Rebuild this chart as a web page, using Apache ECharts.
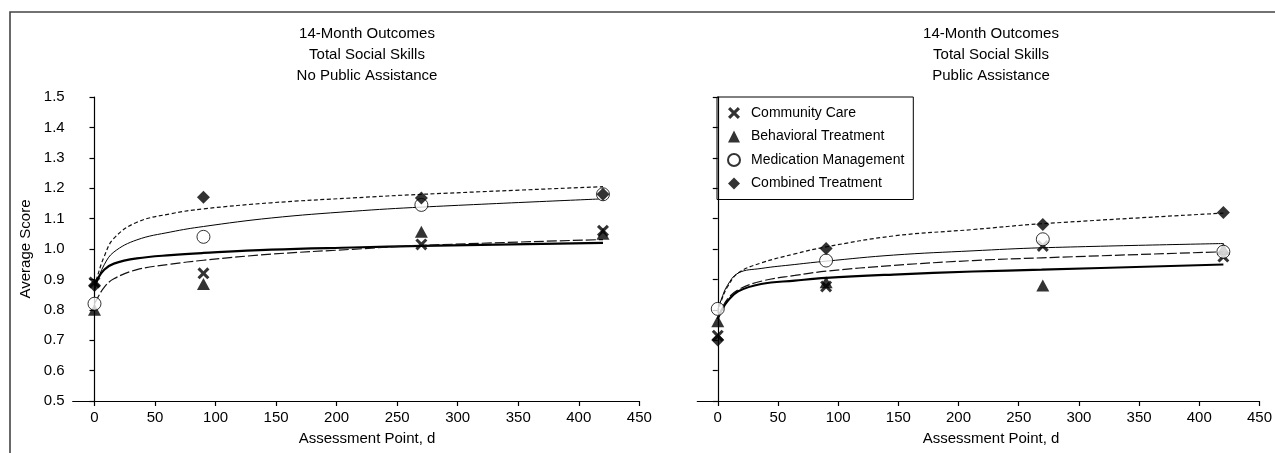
<!DOCTYPE html>
<html>
<head>
<meta charset="utf-8">
<script src="https://cdn.jsdelivr.net/npm/echarts@6/dist/echarts.min.js"></script>
<style>
  html, body { margin: 0; padding: 0; background: #fff; }
  #chart { width: 1275px; height: 453px; }
</style>
</head>
<body>
<div id="chart"></div>
<script>
// ---------------- DATA ----------------
const groupNames = ['Community Care', 'Behavioral Treatment', 'Medication Management', 'Combined Treatment'];
const panelTitles = [
  '14-Month Outcomes\nTotal Social Skills\nNo Public Assistance',
  '14-Month Outcomes\nTotal Social Skills\nPublic Assistance'
];
const xTickValues = [0, 50, 100, 150, 200, 250, 300, 350, 400, 450];
const assessmentDays = [0, 90, 270, 420];

// observed means, No Public Assistance
const communityNoPA  = [0.89, 0.92, 1.015, 1.06];
const behavioralNoPA = [0.80, 0.885, 1.057, 1.05];
const medicationNoPA = [0.82, 1.04, 1.145, 1.18];
const combinedNoPA   = [0.88, 1.17, 1.168, 1.18];

// observed means, Public Assistance
const communityPA  = [0.715, 0.877, 1.01, 0.975];
const behavioralPA = [0.762, 0.891, 0.88, 1.0];
const medicationPA = [0.803, 0.962, 1.032, 0.991];
const combinedPA   = [0.701, 1.002, 1.081, 1.12];

// fitted curves, No Public Assistance
const fitDaysNoPA       = [0, 2, 8, 16, 35, 63, 90, 146, 213, 271, 420];
const fitCommunityNoPA  = [0.88, 0.898, 0.932, 0.952, 0.969, 0.980, 0.987, 0.998, 1.005, 1.010, 1.020];
const fitBehavioralNoPA = [0.82, 0.835, 0.874, 0.902, 0.932, 0.950, 0.963, 0.983, 0.999, 1.012, 1.031];
const fitMedicationNoPA = [0.86, 0.89, 0.948, 0.990, 1.030, 1.056, 1.074, 1.102, 1.124, 1.138, 1.165];
const fitCombinedNoPA   = [0.875, 0.905, 0.975, 1.035, 1.088, 1.116, 1.132, 1.152, 1.168, 1.180, 1.205];

// fitted curves, Public Assistance
const fitDaysPA       = [0, 3, 8, 17, 36, 64, 90, 146, 212, 269, 420];
const fitCommunityPA  = [0.77, 0.797, 0.828, 0.861, 0.885, 0.896, 0.905, 0.916, 0.926, 0.932, 0.949];
const fitBehavioralPA = [0.77, 0.80, 0.835, 0.866, 0.894, 0.913, 0.927, 0.946, 0.962, 0.971, 0.991];
const fitMedicationPA = [0.80, 0.835, 0.880, 0.921, 0.936, 0.949, 0.960, 0.980, 0.994, 1.004, 1.018];
const fitCombinedPA   = [0.79, 0.830, 0.875, 0.921, 0.954, 0.984, 1.007, 1.043, 1.064, 1.083, 1.118];

// ---------------- STYLE ----------------
const FONT = "'Liberation Sans Narrow','Arial Narrow','Liberation Sans',Arial,sans-serif";
const X_PATH = 'path://M0,1.8L1.8,0L5,3.2L8.2,0L10,1.8L6.8,5L10,8.2L8.2,10L5,6.8L1.8,10L0,8.2L3.2,5Z';
const markerStyles = [
  { symbol: X_PATH, size: [12, 12], item: { color: '#000' }, z: 4 },
  { symbol: 'triangle', size: [13, 12], item: { color: '#000' }, z: 3 },
  { symbol: 'circle', size: 13, item: { color: '#fff', borderColor: '#000', borderWidth: 1 }, z: 5 },
  { symbol: 'diamond', size: [13, 13], item: { color: '#000' }, z: 6 }
];
const lineStyles = [
  { color: '#000', width: 2.2, type: 'solid' },
  { color: '#111', width: 1.2, type: [10, 3] },
  { color: '#000', width: 1, type: 'solid' },
  { color: '#111', width: 1.2, type: [4, 2.5] }
];

const panels = [
  { obs: [communityNoPA, behavioralNoPA, medicationNoPA, combinedNoPA],
    fitX: fitDaysNoPA,
    fit: [fitCommunityNoPA, fitBehavioralNoPA, fitMedicationNoPA, fitCombinedNoPA] },
  { obs: [communityPA, behavioralPA, medicationPA, combinedPA],
    fitX: fitDaysPA,
    fit: [fitCommunityPA, fitBehavioralPA, fitMedicationPA, fitCombinedPA] }
];

const zip = (xs, ys) => xs.map((x, i) => [x, ys[i]]);

const series = [];
panels.forEach((p, pi) => {
  p.fit.forEach((ys, gi) => {
    series.push({
      type: 'line', name: groupNames[gi] + ' fit ' + pi,
      xAxisIndex: pi, yAxisIndex: pi,
      data: zip(p.fitX, ys),
      showSymbol: false, smooth: 0.4,
      lineStyle: lineStyles[gi], z: 2, silent: true, animation: false
    });
  });
  p.obs.forEach((ys, gi) => {
    const m = markerStyles[gi];
    series.push({
      type: 'scatter', name: groupNames[gi],
      xAxisIndex: pi, yAxisIndex: pi,
      data: zip(assessmentDays, ys),
      symbol: m.symbol, symbolSize: m.size,
      itemStyle: m.item, z: m.z, animation: false
    });
  });
});

const axisLine = { show: true, lineStyle: { color: '#000', width: 1.2 } };
const tickStyle = { show: true, inside: false, length: 5, lineStyle: { color: '#000', width: 1.2 } };
const labelText = { fontFamily: FONT, fontSize: 15, color: '#000' };
const titleText = { fontFamily: FONT, fontSize: 15, fontWeight: 'normal', color: '#000', lineHeight: 21 };

const grids = [
  { left: 72.7, top: 97, width: 566.6, height: 304 },
  { left: 697.3, top: 97, width: 565.8, height: 304 }
];
const xMins = [-18, -17];

const option = {
  backgroundColor: '#fff',
  animation: false,
  title: [
    { text: panelTitles[0], left: 367, top: 23, textAlign: 'center', padding: 0, textStyle: titleText },
    { text: panelTitles[1], left: 991, top: 23, textAlign: 'center', padding: 0, textStyle: titleText },
    { text: 'Assessment Point, d', left: 367, top: 428, textAlign: 'center', padding: 0, textStyle: titleText },
    { text: 'Assessment Point, d', left: 991, top: 428, textAlign: 'center', padding: 0, textStyle: titleText }
  ],
  legend: {
    orient: 'vertical', left: 717, top: 97,
    padding: [9, 9, 9, 10],
    itemWidth: 12, itemHeight: 12, itemGap: 9.5,
    borderColor: '#000', borderWidth: 1,
    selectedMode: false,
    textStyle: { fontFamily: FONT, fontSize: 14, lineHeight: 14, color: '#000', padding: [0, 0, 0, 6] },
    data: groupNames.map((n, i) => ({ name: n, icon: markerStyles[i].symbol }))
  },
  grid: grids,
  xAxis: grids.map((g, i) => ({
    type: 'value', gridIndex: i, min: xMins[i], max: 450,
    axisLine: axisLine,
    axisTick: Object.assign({ customValues: xTickValues }, tickStyle),
    axisLabel: Object.assign({ customValues: xTickValues, margin: 9 }, labelText),
    splitLine: { show: false }
  })),
  yAxis: grids.map((g, i) => ({
    type: 'value', gridIndex: i, min: 0.5, max: 1.5, interval: 0.1,
    name: i === 0 ? 'Average Score' : '',
    nameLocation: 'middle', nameGap: 39,
    nameTextStyle: { fontFamily: FONT, fontSize: 15, color: '#000' },
    axisLine: axisLine,
    axisTick: tickStyle,
    axisLabel: Object.assign({ show: i === 0, margin: 8, formatter: v => v.toFixed(1) }, labelText),
    splitLine: { show: false }
  })),
  graphic: [{
    type: 'polyline', silent: true, z: 100,
    shape: { points: [[10, 453], [10, 12], [1275, 12]] },
    style: { stroke: '#444', lineWidth: 1.6, fill: null }
  }],
  series: series
};

const chart = echarts.init(document.getElementById('chart'), null, { renderer: 'canvas' });
chart.setOption(option);
</script>
</body>
</html>
